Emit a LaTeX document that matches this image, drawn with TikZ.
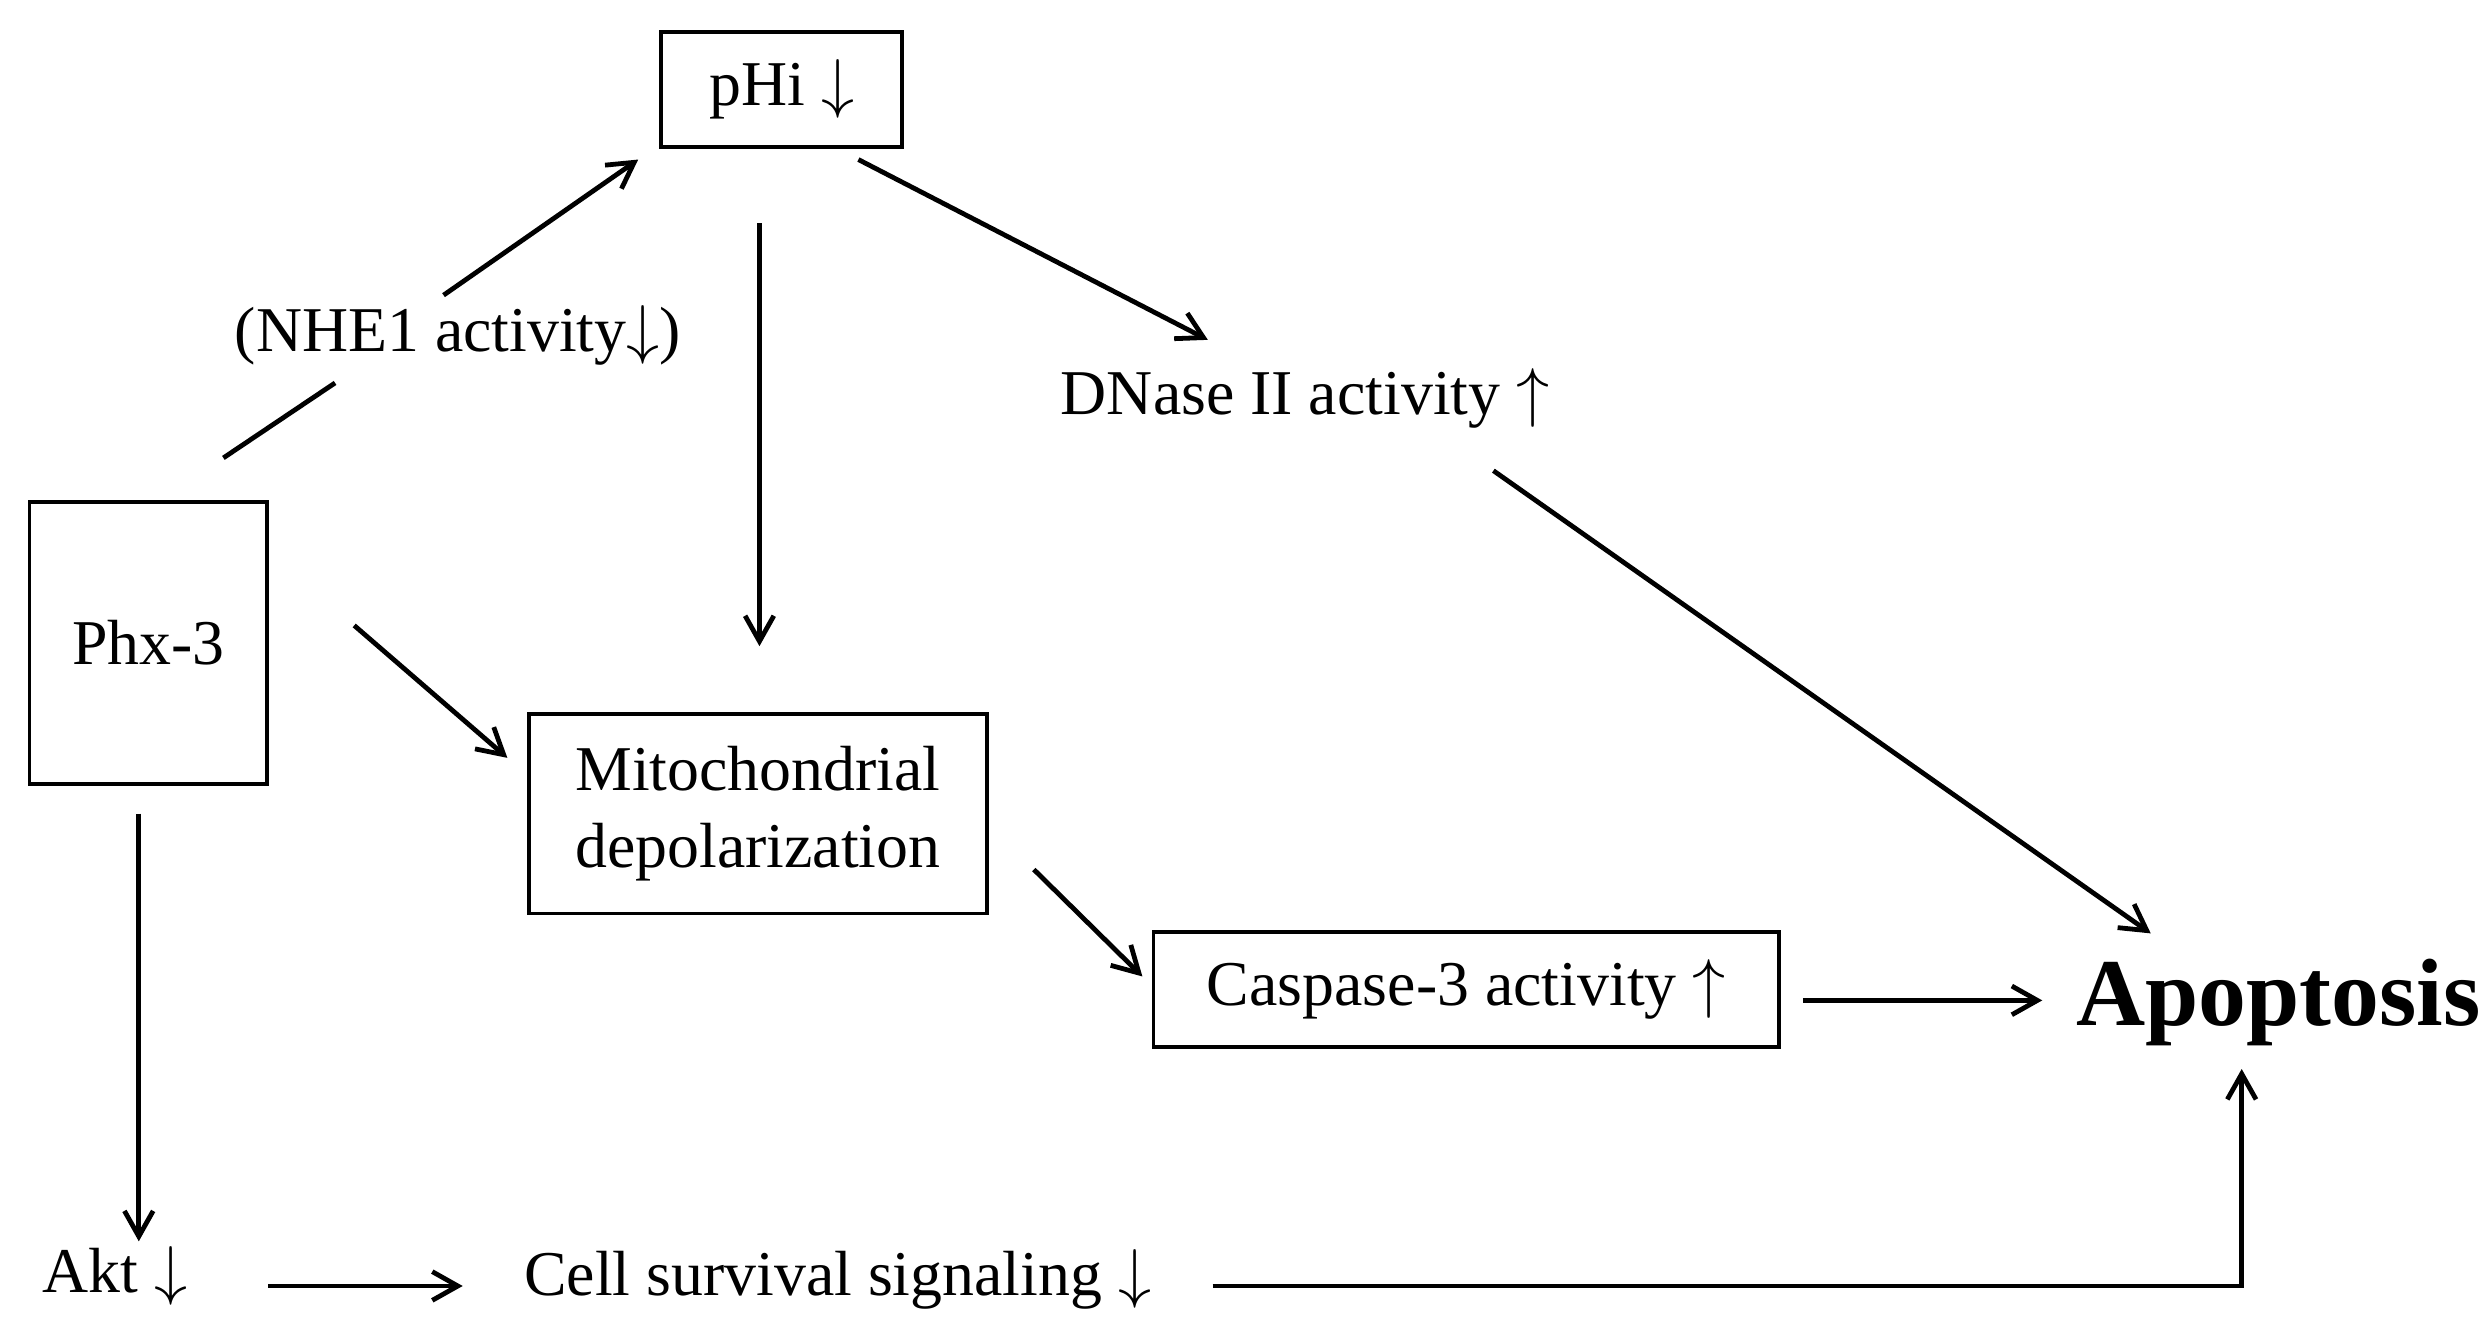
\documentclass[tikz,border=0pt]{standalone}
\usepackage{fontspec}
\setmainfont{Liberation Serif}
\usetikzlibrary{arrows.meta}
\begin{document}
\begin{tikzpicture}[x=0.5pt,y=-0.5pt,
  box/.style={draw,line width=1.2pt,inner sep=0pt,font=\fontsize{20}{24}\selectfont},
  txt/.style={inner sep=0pt,font=\fontsize{20}{24}\selectfont},
  arr/.style={line width=1.5pt,-{Straight Barb[length=8pt,width=9pt]}},
  ln/.style={line width=1.5pt}]
\useasboundingbox (0,0) rectangle (1560,841);
\node[box,minimum width=151*0.5pt,minimum height=72*0.5pt] (phi) at (490,56) {pHi $\downarrow$};
\node[box,minimum width=149*0.5pt,minimum height=177*0.5pt] (phx) at (93,403) {Phx-3};
\node[box,minimum width=287*0.5pt,minimum height=125*0.5pt,align=center] (mito) at (475,510) {Mitochondrial\\depolarization};
\node[box,minimum width=392*0.5pt,minimum height=72*0.5pt] (casp) at (919,620) {Caspase-3 activity $\uparrow$};
\node[txt] (dnase) at (818,250) {DNase II activity $\uparrow$};
\node[txt] (nhe) at (287,210) {(NHE1 activity$\downarrow$)};
\node[inner sep=0pt,font=\fontsize{30}{36}\selectfont\bfseries] (apo) at (1428,628) {Apoptosis};
\node[txt] (akt) at (72,800) {Akt $\downarrow$};
\node[txt] (cell) at (525,802) {Cell survival signaling $\downarrow$};
\coordinate (a1) at (140,287); \coordinate (a2) at (210,240);
\coordinate (a3) at (278,185); \coordinate (a4) at (400,100);
\coordinate (b1) at (476,140); \coordinate (b2) at (476,405);
\coordinate (c1) at (538,100); \coordinate (c2) at (757,213);
\coordinate (d1) at (222,392); \coordinate (d2) at (318,475);
\coordinate (e1) at (936,295); \coordinate (e2) at (1348,585);
\coordinate (f1) at (648,545); \coordinate (f2) at (716,612);
\coordinate (g1) at (1130,627); \coordinate (g2) at (1280,627);
\coordinate (h1) at (87,510); \coordinate (h2) at (87,778);
\coordinate (i1) at (168,806); \coordinate (i2) at (290,806);
\coordinate (j1) at (760,806); \coordinate (j2) at (1405,806); \coordinate (j3) at (1405,670);
\draw[ln] (a1) -- (a2);
\draw[arr] (a3) -- (a4);
\draw[arr] (b1) -- (b2);
\draw[arr] (c1) -- (c2);
\draw[arr] (d1) -- (d2);
\draw[arr] (e1) -- (e2);
\draw[arr] (f1) -- (f2);
\draw[arr] (g1) -- (g2);
\draw[arr] (h1) -- (h2);
\draw[arr] (i1) -- (i2);
\draw[arr] (j1) -- (j2) -- (j3);
\end{tikzpicture}
\end{document}
